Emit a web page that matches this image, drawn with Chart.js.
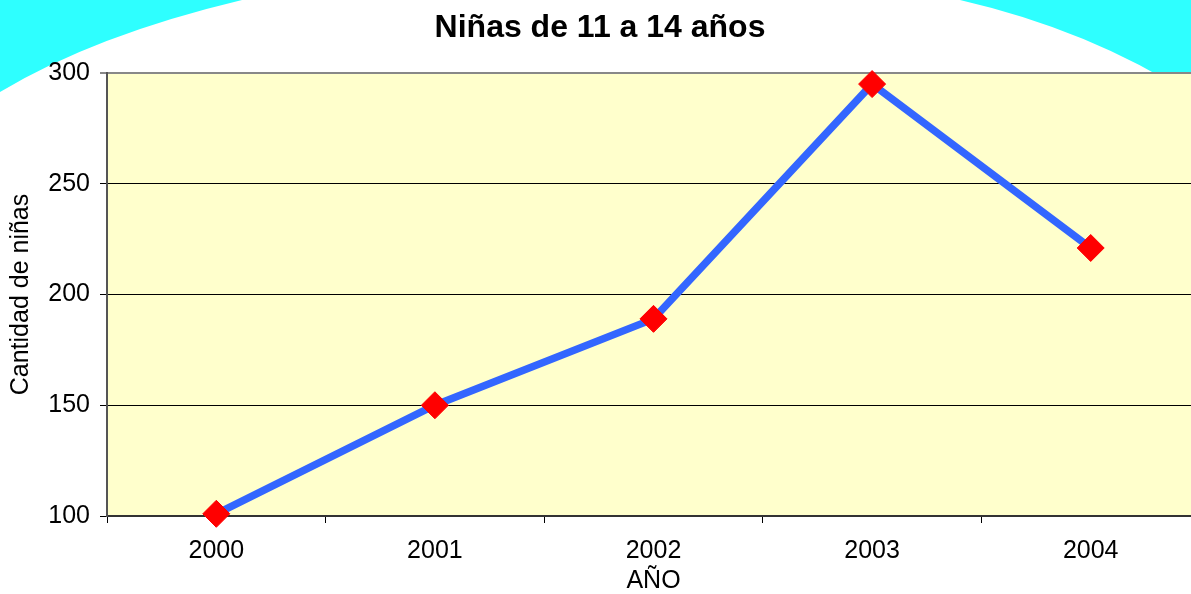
<!DOCTYPE html>
<html lang="es">
<head>
  <meta charset="UTF-8">
  <title>Niñas de 11 a 14 años</title>
  <script src="https://cdn.jsdelivr.net/npm/chart.js"></script>
  <style>
    html, body { margin: 0; padding: 0; background: #ffffff; }
    #wrap { width: 1191px; height: 594px; }
  </style>
</head>
<body>
  <div id="wrap"><canvas id="grafico" width="1191" height="594"></canvas></div>

  <script>
    // datos
    const anios = ['2000', '2001', '2002', '2003', '2004'];
    const ninas = [101, 150, 189, 295, 221];

    const fondo = {
      id: 'fondo',
      beforeDraw(chart) {
        const c = chart.ctx;
        const a = chart.chartArea;
        c.save();
        c.fillStyle = '#ffffff';
        c.fillRect(0, 0, chart.width, chart.height);
        // formas cian de las esquinas
        c.fillStyle = '#2effff';
        c.beginPath();
        c.moveTo(0, 92);
        c.quadraticCurveTo(95, 35, 242, 0);
        c.lineTo(0, 0);
        c.closePath();
        c.fill();
        c.beginPath();
        c.moveTo(960, 0);
        c.quadraticCurveTo(1090, 30, 1191, 95);
        c.lineTo(1191, 0);
        c.closePath();
        c.fill();
        // area de trazado
        c.fillStyle = '#ffffcc';
        c.fillRect(a.left, a.top, a.right - a.left, a.bottom - a.top);
        c.restore();
      }
    };

    // el área de trazado sigue unos píxeles más allá del borde derecho
    const EXTRA = 9;
    const extender = {
      id: 'extender',
      afterLayout(chart) {
        const a = chart.chartArea;
        a.right += EXTRA;
        a.width += EXTRA;
        const x = chart.scales.x;
        x.right += EXTRA;
        x.width += EXTRA;
        x.configure();
      }
    };

    const sinRelleno = (s) => {
      s.paddingLeft = 0; s.paddingRight = 0; s.paddingTop = 0; s.paddingBottom = 0;
    };

    new Chart(document.getElementById('grafico'), {
      type: 'line',
      data: {
        labels: anios,
        datasets: [{
          label: 'Niñas',
          data: ninas,
          borderColor: '#3366ff',
          borderWidth: 7.5,
          pointStyle: 'rectRot',
          pointRadius: 13.5,
          pointBackgroundColor: '#ff0000',
          pointBorderColor: '#ff0000',
          pointBorderWidth: 1,
          tension: 0,
          clip: false
        }]
      },
      options: {
        responsive: false,
        animation: false,
        layout: { padding: { left: 0, top: 0, bottom: 0, right: -9 }, autoPadding: false },
        plugins: {
          legend: { display: false },
          tooltip: { enabled: false },
          title: {
            display: true,
            text: 'Niñas de 11 a 14 años',
            color: '#000000',
            font: { family: 'Liberation Sans, Arial, sans-serif', size: 32, weight: 'bold' },
            padding: { top: 9, bottom: 25.6 }
          }
        },
        scales: {
          x: {
            offset: true,
            grid: {
              offset: true,
              drawOnChartArea: false,
              drawTicks: true,
              tickLength: 7,
              color: '#000000'
            },
            border: { display: true, color: '#333333', width: 2 },
            ticks: {
              color: '#000000',
              padding: 13,
              font: { family: 'Liberation Sans, Arial, sans-serif', size: 25 }
            },
            title: {
              display: true,
              text: 'AÑO',
              color: '#000000',
              font: { family: 'Liberation Sans, Arial, sans-serif', size: 25, lineHeight: 1 },
              padding: 0
            },
            afterFit(s) { s.height = 78; sinRelleno(s); }
          },
          y: {
            min: 100,
            max: 300,
            grid: {
              color: (ctx) => ctx.tick && ctx.tick.value === 300 ? '#888888' : '#000000',
              lineWidth: (ctx) => ctx.tick && ctx.tick.value === 300 ? 2 : 1,
              drawTicks: true,
              tickLength: 7
            },
            border: { display: true, color: '#555555', width: 2 },
            ticks: {
              stepSize: 50,
              color: '#000000',
              padding: 10,
              font: { family: 'Liberation Sans, Arial, sans-serif', size: 25 }
            },
            title: {
              display: true,
              text: 'Cantidad de niñas',
              color: '#000000',
              font: { family: 'Liberation Sans, Arial, sans-serif', size: 25, lineHeight: 1 },
              padding: { top: 9, bottom: 0 }
            },
            afterFit(s) { s.width = 107; sinRelleno(s); }
          }
        }
      },
      plugins: [fondo, extender]
    });
  </script>
</body>
</html>
